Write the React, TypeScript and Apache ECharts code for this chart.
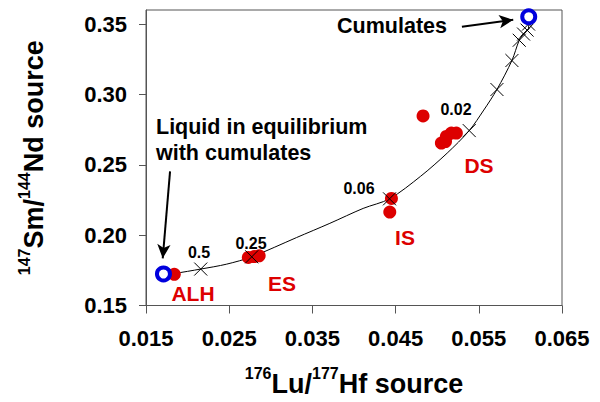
import React, { useEffect, useRef } from "react";
import * as echarts from "echarts";

const FONT = "'Liberation Sans', Arial, Helvetica, sans-serif";

// Measured samples (red dots)
const sampleX = [0.0184, 0.0273, 0.0280, 0.0286, 0.0445, 0.0443, 0.0483, 0.0505, 0.0510, 0.0511, 0.0517, 0.0523];
const sampleY = [0.1722, 0.1842, 0.1848, 0.1853, 0.2261, 0.2164, 0.2847, 0.2654, 0.2665, 0.2701, 0.2725, 0.2725];

// Mixing curve
const curveX = [0.0171, 0.0184, 0.02158, 0.0247, 0.02771, 0.0331, 0.0371, 0.0411, 0.04427, 0.0480, 0.0512, 0.05385, 0.0556, 0.05718, 0.05898, 0.05986, 0.06038, 0.06098, 0.0610];
const curveY = [0.1724, 0.1728, 0.1759, 0.1794, 0.1846, 0.1983, 0.2084, 0.2190, 0.2258, 0.2418, 0.2583, 0.2743, 0.2889, 0.3035, 0.3241, 0.3385, 0.3429, 0.3470, 0.3552];

// Cross markers along the curve
const crossX = [0.02158, 0.02771, 0.04427, 0.05385, 0.05718, 0.05898, 0.05986, 0.06038, 0.06080, 0.06098];
const crossY = [0.1759, 0.1846, 0.2258, 0.2743, 0.3035, 0.3241, 0.3385, 0.3429, 0.3457, 0.3500];

// End members (blue open circles)
const endX = [0.0171, 0.0610];
const endY = [0.1724, 0.3552];

// Arrows [x1, y1, x2, y2]
const arrowCum = [0.05297, 0.3481, 0.05914, 0.3530];
const arrowLiq = [0.01789, 0.2453, 0.01701, 0.1835];

const xTicks = [0.015, 0.025, 0.035, 0.045, 0.055, 0.065];
const yTicks = [0.15, 0.2, 0.25, 0.3, 0.35];

export default function App() {
  const ref = useRef<HTMLDivElement>(null);
  useEffect(() => {
    if (!ref.current) return;
    const chart = echarts.init(ref.current, undefined, { renderer: "svg" });
    const axisColor = "#555";
    const supRich = {
      b: { fontSize: 27, fontWeight: "bold", fontFamily: FONT, color: "#000", lineHeight: 36 },
      s: { fontSize: 16, fontWeight: "bold", fontFamily: FONT, color: "#000", lineHeight: 16, verticalAlign: "top" },
    };
    const txt = (text: string, x: number, y: number, size: number, color: string, align = "center") => ({
      type: "text",
      x,
      y,
      silent: true,
      z: 100,
      style: {
        text,
        fontSize: size,
        fontWeight: "bold",
        fontFamily: FONT,
        fill: color,
        align,
        verticalAlign: "middle",
      },
    });
    const red = "#dd0000";
    chart.setOption({
      animation: false,
      backgroundColor: "#fff",
      grid: {
        left: 146,
        right: 38,
        top: 10,
        bottom: 95,
        show: true,
        borderColor: axisColor,
        borderWidth: 1,
        backgroundColor: "#fff",
      },
      xAxis: {
        type: "value",
        min: 0.015,
        max: 0.065,
        interval: 0.01,
        splitLine: { show: false },
        axisLine: { show: true, lineStyle: { color: axisColor, width: 1 } },
        axisTick: { show: true, length: 8, lineStyle: { color: axisColor } },
        axisLabel: {
          fontSize: 22,
          fontWeight: "bold",
          fontFamily: FONT,
          color: "#000",
          margin: 22,
          customValues: xTicks,
          formatter: (v: number) => v.toFixed(3),
        },
        name: "{s|176}{b|Lu/}{s|177}{b|Hf source}",
        nameLocation: "middle",
        nameGap: 60,
        nameTextStyle: { rich: supRich },
      },
      yAxis: {
        type: "value",
        min: 0.15,
        max: 0.36,
        interval: 0.05,
        splitLine: { show: false },
        axisLine: { show: true, lineStyle: { color: axisColor, width: 1 } },
        axisTick: { show: true, length: 7, lineStyle: { color: axisColor }, customValues: yTicks },
        axisLabel: {
          fontSize: 22,
          fontWeight: "bold",
          fontFamily: FONT,
          color: "#000",
          margin: 19,
          customValues: yTicks,
          formatter: (v: number) => v.toFixed(2),
        },
        name: "{s|147}{b|Sm/}{s|144}{b|Nd source}",
        nameLocation: "middle",
        nameRotate: 90,
        nameGap: 94,
        nameTextStyle: { rich: supRich },
      },
      series: [
        {
          type: "line",
          data: curveX.map((x, i) => [x, curveY[i]]),
          showSymbol: false,
          symbol: "none",
          smooth: 0.3,
          lineStyle: { color: "#000", width: 1 },
          z: 2,
          silent: true,
        },
        {
          type: "scatter",
          data: sampleX.map((x, i) => [x, sampleY[i]]),
          symbol: "circle",
          symbolSize: 13,
          itemStyle: { color: red, opacity: 1 },
          z: 3,
          silent: true,
        },
        {
          type: "scatter",
          data: crossX.map((x, i) => [x, crossY[i]]),
          symbol: "path://M0,0L10,10M10,0L0,10",
          symbolSize: 13,
          itemStyle: { color: "none", borderColor: "#000", borderWidth: 1, opacity: 1 },
          z: 4,
          silent: true,
        },
        {
          type: "scatter",
          data: endX.map((x, i) => [x, endY[i]]),
          symbol: "circle",
          symbolSize: 13,
          itemStyle: { color: "#fff", borderColor: "#0000dd", borderWidth: 4, opacity: 1 },
          z: 5,
          silent: true,
        },
        {
          type: "line",
          data: [],
          silent: true,
          markLine: {
            silent: true,
            animation: false,
            symbol: ["none", "arrow"],
            symbolSize: [10, 14],
            label: { show: false },
            lineStyle: { color: "#000", width: 2, type: "solid" },
            data: [
              [{ coord: [arrowCum[0], arrowCum[1]] }, { coord: [arrowCum[2], arrowCum[3]] }],
              [{ coord: [arrowLiq[0], arrowLiq[1]] }, { coord: [arrowLiq[2], arrowLiq[3]] }],
            ],
          },
        },
      ],
      graphic: [
        txt("Cumulates", 392, 26, 21.5, "#000"),
        txt("Liquid in equilibrium", 156, 127, 21.5, "#000", "left"),
        txt("with cumulates", 156, 153, 21.5, "#000", "left"),
        txt("ALH", 193, 293, 21, red),
        txt("ES", 282, 283, 21, red),
        txt("IS", 405, 237, 21, red),
        txt("DS", 479, 165, 21, red),
        txt("0.5", 199, 252, 16, "#000"),
        txt("0.25", 251, 243, 16, "#000"),
        txt("0.06", 359, 188, 16, "#000"),
        txt("0.02", 456, 109, 16, "#000"),
      ],
    });
    return () => chart.dispose();
  }, []);
  return <div ref={ref} style={{ width: 600, height: 402, position: "absolute", left: 0, top: 0 }} />;
}
